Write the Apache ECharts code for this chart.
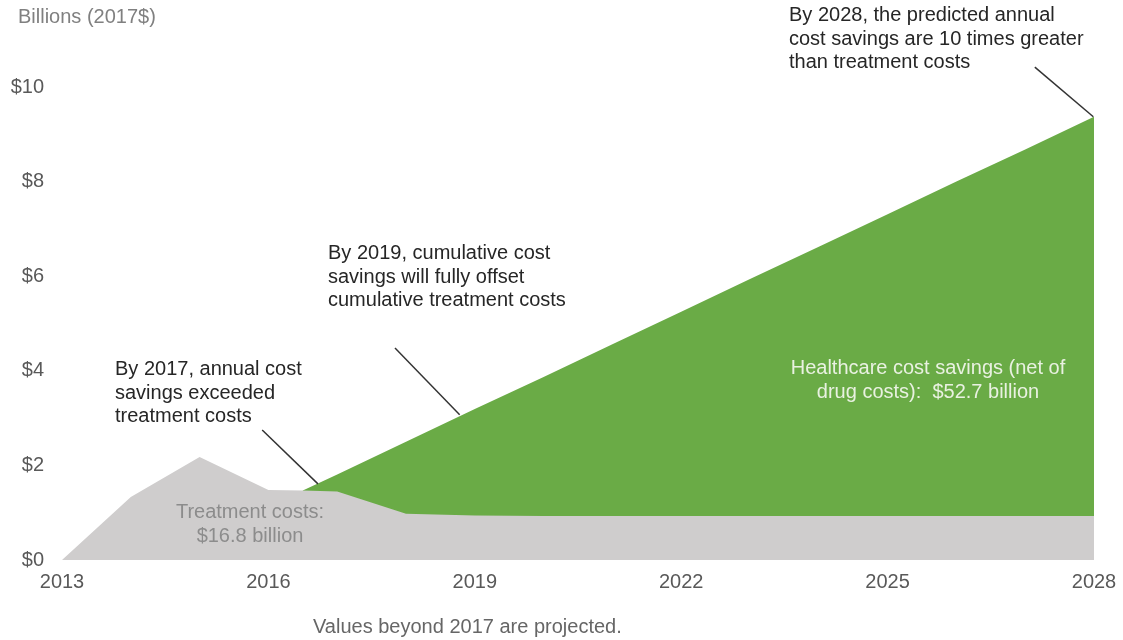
<!DOCTYPE html>
<html><head><meta charset="utf-8">
<script src="https://cdn.jsdelivr.net/npm/echarts@6/dist/echarts.min.js"></script>
<style>html,body{margin:0;padding:0;background:#fff}#c{width:1123px;height:640px}</style>
</head><body><div id="c"></div>
<script>
const treatYears = [2013, 2014, 2015, 2016, 2016.5, 2017, 2018, 2019, 2020, 2021, 2022, 2023, 2024, 2025, 2026, 2027, 2028];
const treatValues = [0, 1.33, 2.18, 1.48, 1.47, 1.45, 0.98, 0.94, 0.93, 0.93, 0.93, 0.93, 0.93, 0.93, 0.93, 0.93, 0.93];
const saveYears = [2016.5, 2017, 2018, 2019, 2020, 2021, 2022, 2023, 2024, 2025, 2026, 2027, 2028];
const saveValues = [1.47, 1.81, 2.5, 3.19, 3.87, 4.56, 5.25, 5.94, 6.62, 7.31, 8.0, 8.68, 9.37];
const xTicks = [2013, 2016, 2019, 2022, 2025, 2028];
const yTicks = [0, 2, 4, 6, 8, 10];
const leaders = [
  [[2015.91, 2.75], [2016.72, 1.61]],
  [[2017.84, 4.48], [2018.78, 3.07]],
  [[2027.14, 10.42], [2027.99, 9.37]]
];

const FONT = 'Liberation Sans, Arial, sans-serif';
const FS = 20;
const chart = echarts.init(document.getElementById('c'));
const txt = (left, top, text, opts) => ({
  type: 'text', left, top, z: 100,
  style: Object.assign({ text, fill: '#262626', font: FS + 'px ' + FONT, lineHeight: 23.5 }, opts || {})
});
const ctxt = (x, y, text, fill) => ({
  type: 'text', x, y, z: 100,
  style: { text, fill, font: FS + 'px ' + FONT, lineHeight: 23.5, align: 'center', verticalAlign: 'top' }
});
chart.setOption({
  animation: false,
  grid: { left: 62, right: 29, top: 63.35, bottom: 80 },
  xAxis: {
    type: 'value', min: 2013, max: 2028, interval: 3,
    axisLine: { show: false }, axisTick: { show: false }, splitLine: { show: false },
    axisLabel: { color: '#595959', fontSize: FS, fontFamily: FONT, margin: 12,
      formatter: v => xTicks.includes(v) ? String(v) : '' }
  },
  yAxis: {
    type: 'value', min: 0, max: 10.5, interval: 2,
    axisLine: { show: false }, axisTick: { show: false }, splitLine: { show: false },
    axisLabel: { color: '#595959', fontSize: FS, fontFamily: FONT, margin: 18, showMaxLabel: false,
      formatter: v => yTicks.includes(v) ? '$' + v : '' }
  },
  series: [
    {
      type: 'line', name: 'Healthcare cost savings', z: 1, clip: false,
      data: saveYears.map((x, i) => [x, saveValues[i]]),
      showSymbol: false, symbol: 'none',
      lineStyle: { width: 0 }, areaStyle: { color: '#6aab46', opacity: 1 },
      markLine: {
        silent: true, symbol: 'none', animation: false,
        lineStyle: { color: '#333333', width: 1.5, type: 'solid' },
        label: { show: false },
        data: leaders.map(l => [{ coord: l[0] }, { coord: l[1] }])
      }
    },
    {
      type: 'line', name: 'Treatment costs', z: 2,
      data: treatYears.map((x, i) => [x, treatValues[i]]),
      showSymbol: false, symbol: 'none',
      lineStyle: { width: 0 }, areaStyle: { color: '#cfcdcd', opacity: 1 }
    }
  ],
  graphic: [
    txt(18, 6, 'Billions (2017$)', { fill: '#808080' }),
    txt(115, 358, 'By 2017, annual cost\nsavings exceeded\ntreatment costs'),
    txt(328, 242, 'By 2019, cumulative cost\nsavings will fully offset\ncumulative treatment costs'),
    txt(789, 4, 'By 2028, the predicted annual\ncost savings are 10 times greater\nthan treatment costs'),
    ctxt(928, 357, 'Healthcare cost savings (net of\ndrug costs):  $52.7 billion', '#e9f1e1'),
    ctxt(250, 501, 'Treatment costs:\n$16.8 billion', '#8c8c8c'),
    txt(313, 616, 'Values beyond 2017 are projected.', { fill: '#666666' })
  ]
});
</script></body></html>
